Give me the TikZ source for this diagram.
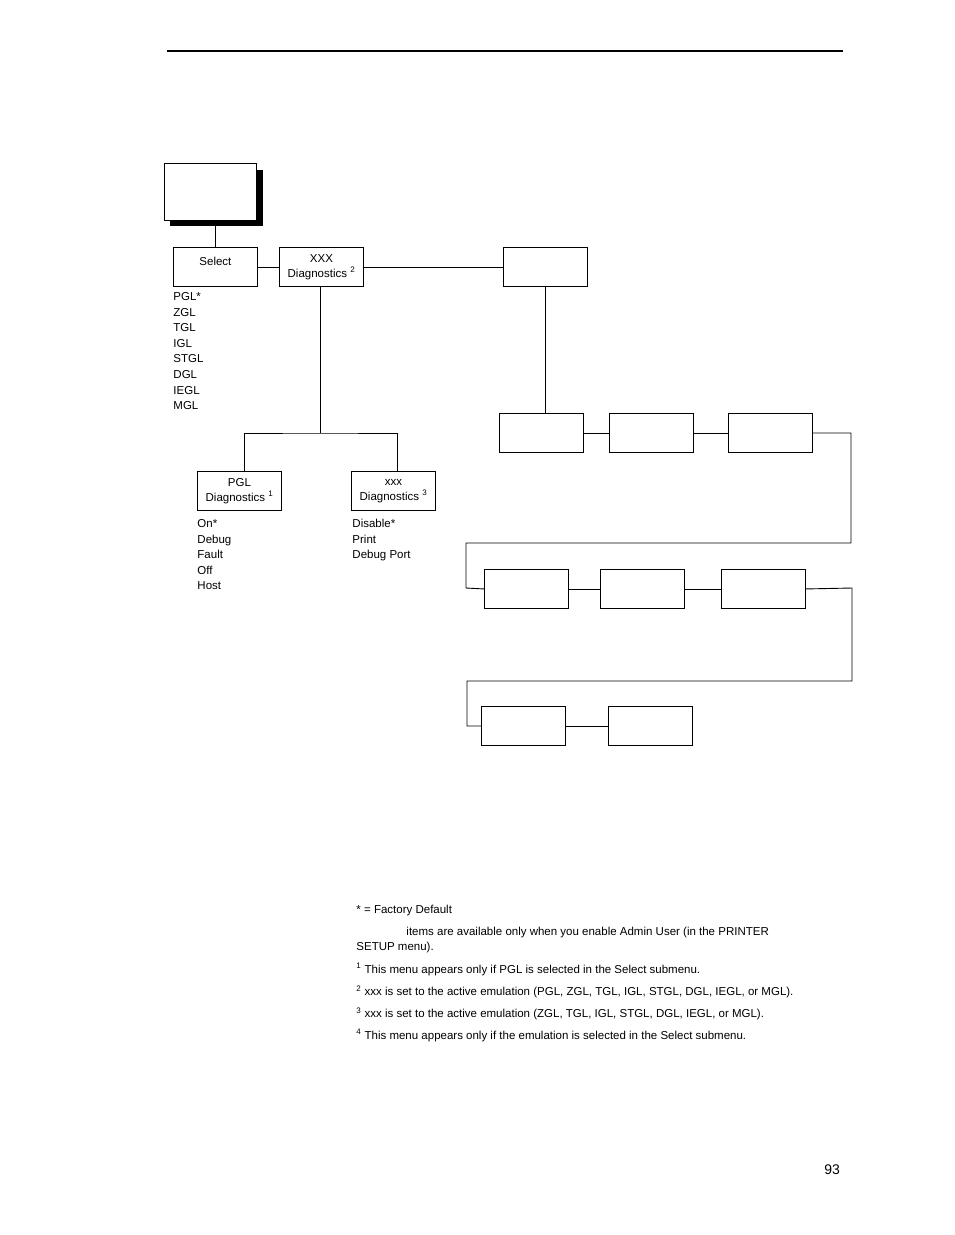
\documentclass[tikz,border=0pt]{standalone}
\usepackage{fontspec}
\setmainfont{Liberation Sans}
\newcommand{\fn}[1]{\textsuperscript{\fontsize{8}{8}\selectfont #1}}
\begin{document}
\begin{tikzpicture}[x=1pt,y=-1pt, line width=0.9pt,
    menubox/.style={draw, minimum width=84pt, minimum height=39pt, inner sep=0pt, font=\fontsize{11.5}{15}\selectfont, align=center},
    optlist/.style={anchor=north west, inner sep=0pt, font=\fontsize{11.5}{15.6}\selectfont, align=left},
    note/.style={anchor=north west, inner sep=0pt, font=\fontsize{11.5}{15}\selectfont, align=left}]

        \useasboundingbox (0,0) rectangle (954,1235);

        \draw[line width=2pt] (167,51) -- (843,51);

        % main menu box with shadow
        \fill (170,170) rectangle (263,226);
        \draw[fill=white] (164,163) rectangle (256,220);
        \coordinate (top) at (215,220);

        \node[menubox, anchor=north west] (sel) at (173,247) {\raisebox{12pt}{Select}};
        \node[menubox, anchor=north west] (xdiag) at (279,247) {XXX\\Diagnostics \fn{2}};
        \node[menubox, anchor=north west] (blank) at (503,247) {};

        \draw (top) -- (top |- sel.north);
        \draw (sel) -- (xdiag);
        \draw (xdiag) -- (blank);

        \node[optlist] (sellist) at (173,292) {PGL*\\ZGL\\TGL\\IGL\\STGL\\DGL\\IEGL\\MGL};

        \node[menubox, anchor=north west] (pdiag) at (197,471) {PGL\\Diagnostics \fn{1}};
        \node[menubox, anchor=north west] (sdiag) at (351,471) {xxx\\Diagnostics \fn{3}};
        \coordinate (split) at (320,433);
        \draw (split |- xdiag.south) -- (split);
        \draw (244,471) |- (split) -| (397,471);

        \node[optlist] (plist) at (197,519) {On*\\Debug\\Fault\\Off\\Host};
        \node[optlist] (slist) at (352,519) {Disable*\\Print\\Debug Port};

        % rows of empty boxes
        \node[menubox, anchor=north west] (a1) at (499,413) {};
        \node[menubox, anchor=north west] (a2) at (609,413) {};
        \node[menubox, anchor=north west] (a3) at (728,413) {};
        \node[menubox, anchor=north west] (b1) at (484,569) {};
        \node[menubox, anchor=north west] (b2) at (600,569) {};
        \node[menubox, anchor=north west] (b3) at (721,569) {};
        \node[menubox, anchor=north west] (c1) at (481,706) {};
        \node[menubox, anchor=north west] (c2) at (608,706) {};

        \draw (545,286) -- (545,413);
        \draw (a1) -- (a2);
        \draw (a2) -- (a3);
        \draw (a3.east) -- (851,433) -- (851,543) -- (466,543) -- (466,588) -- (b1.west);
        \draw (b1) -- (b2);
        \draw (b2) -- (b3);
        \draw (b3.east) -- (852,588) -- (852,681) -- (467,681) -- (467,726) -- (c1.west);
        \draw (c1) -- (c2);

        % footnotes
        \node[note] (n0) at (356,905) {* = Factory Default};
        \node[note] (n1) at (356,927) {\hspace{50pt}items are available only when you enable Admin User (in the PRINTER\\SETUP menu).};
        \node[note] (n2) at (356,963) {\fn{1} This menu appears only if PGL is selected in the Select submenu.};
        \node[note] (n3) at (356,985) {\fn{2} xxx is set to the active emulation (PGL, ZGL, TGL, IGL, STGL, DGL, IEGL, or MGL).};
        \node[note] (n4) at (356,1007) {\fn{3} xxx is set to the active emulation (ZGL, TGL, IGL, STGL, DGL, IEGL, or MGL).};
        \node[note] (n5) at (356,1029) {\fn{4} This menu appears only if the emulation is selected in the Select submenu.};

        \node[note, font=\fontsize{14}{16}\selectfont] (pg) at (824,1164) {93};

\end{tikzpicture}
\end{document}
